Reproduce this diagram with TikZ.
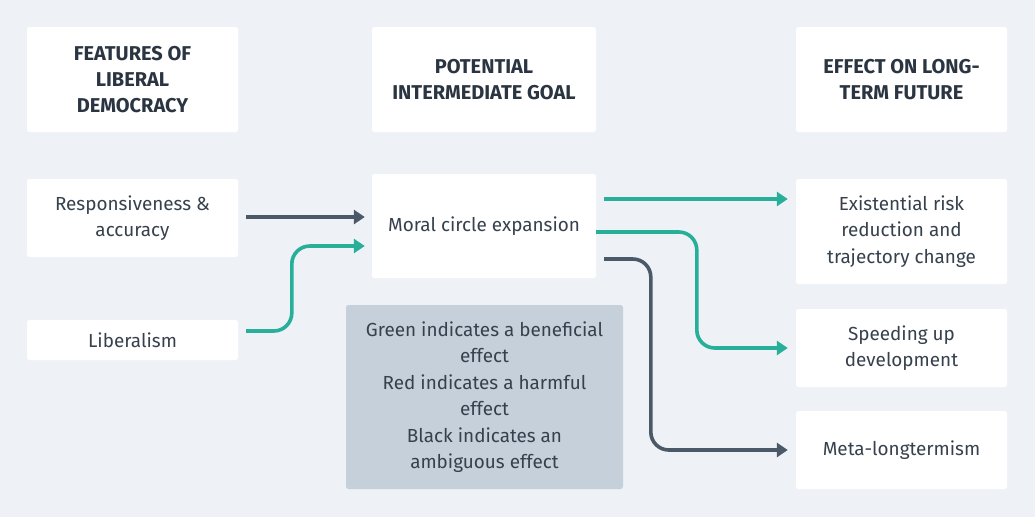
\documentclass[tikz,border=0pt]{standalone}
\usepackage{fontspec}
\setmainfont{Fira Sans}
\usetikzlibrary{arrows.meta,calc}
\definecolor{bgc}{HTML}{EEF2F6}
\definecolor{tealc}{HTML}{27AF9A}
\definecolor{darkc}{HTML}{4A5867}
\definecolor{legc}{HTML}{C5D0DA}
\definecolor{headc}{HTML}{2B3541}
\definecolor{txtc}{HTML}{36414D}
\tikzset{
  card/.style={fill=white, rounded corners=2.5pt, inner sep=0pt, align=center, text=txtc,
    font=\fontsize{18.9}{26.5}\selectfont},
  headcard/.style={card, text=headc, font=\bfseries\fontsize{20}{26}\selectfont},
  legcard/.style={card, fill=legc},
  conn/.style={line width=3.6pt, rounded corners=18pt, -{Triangle[length=11pt,width=14pt]}},
  gconn/.style={conn, draw=tealc},
  dconn/.style={conn, draw=darkc},
}
\begin{document}
\begin{tikzpicture}[x=1pt,y=-1pt]
\fill[bgc] (0,0) rectangle (1035,517);
\useasboundingbox (0,0) rectangle (1035,517);
% headers
\node[headcard, minimum width=211, minimum height=105] (h1) at (132.5,79.5) {FEATURES OF\\LIBERAL\\DEMOCRACY};
\node[headcard, minimum width=224, minimum height=105] (h2) at (484,79.5) {POTENTIAL\\INTERMEDIATE GOAL};
\node[headcard, minimum width=211, minimum height=105] (h3) at (901.5,79.5) {EFFECT ON LONG-\\TERM FUTURE};
% left
\node[card, minimum width=211, minimum height=78] (resp) at (132.5,218) {Responsiveness \&\\accuracy};
\node[card, minimum width=211, minimum height=40] (lib) at (132.5,340) {Liberalism};
% middle
\node[card, minimum width=224, minimum height=104] (mor) at (484,226) {Moral circle expansion};
\node[legcard, minimum width=277, minimum height=184] (leg) at (484.5,397) {Green indicates a beneficial\\effect\\Red indicates a harmful\\effect\\Black indicates an\\ambiguous effect};
% right
\node[card, minimum width=211, minimum height=105] (ex) at (901.5,231.5) {Existential risk\\reduction and\\trajectory change};
\node[card, minimum width=211, minimum height=78] (spd) at (901.5,348) {Speeding up\\development};
\node[card, minimum width=211, minimum height=78] (meta) at (901.5,450) {Meta-longtermism};
% connectors
\coordinate (r0) at ($(resp.east)+(8,-1)$);
\draw[dconn] (r0) -- ($(r0 -| mor.west)+(-7,0)$);
\coordinate (l0) at ($(lib.east)+(8,-9)$);
\coordinate (l1) at ($(mor.west)+(-7,20)$);
\draw[gconn] (l0) -| ($(l1)+(-73,0)$) -- (l1);
\coordinate (m0) at ($(mor.east)+(8,-27)$);
\draw[gconn] (m0) -- ($(m0 -| ex.west)+(-8,0)$);
\coordinate (m1) at ($(mor.east)+(0,6)$);
\draw[gconn] (m1) -| ($(spd.west)+(-99,0)$) -- ($(spd.west)+(-8,0)$);
\coordinate (m2) at ($(mor.east)+(8,33)$);
\draw[dconn] (m2) -| ($(meta.west)+(-145,0)$) -- ($(meta.west)+(-8,0)$);
\end{tikzpicture}
\end{document}
